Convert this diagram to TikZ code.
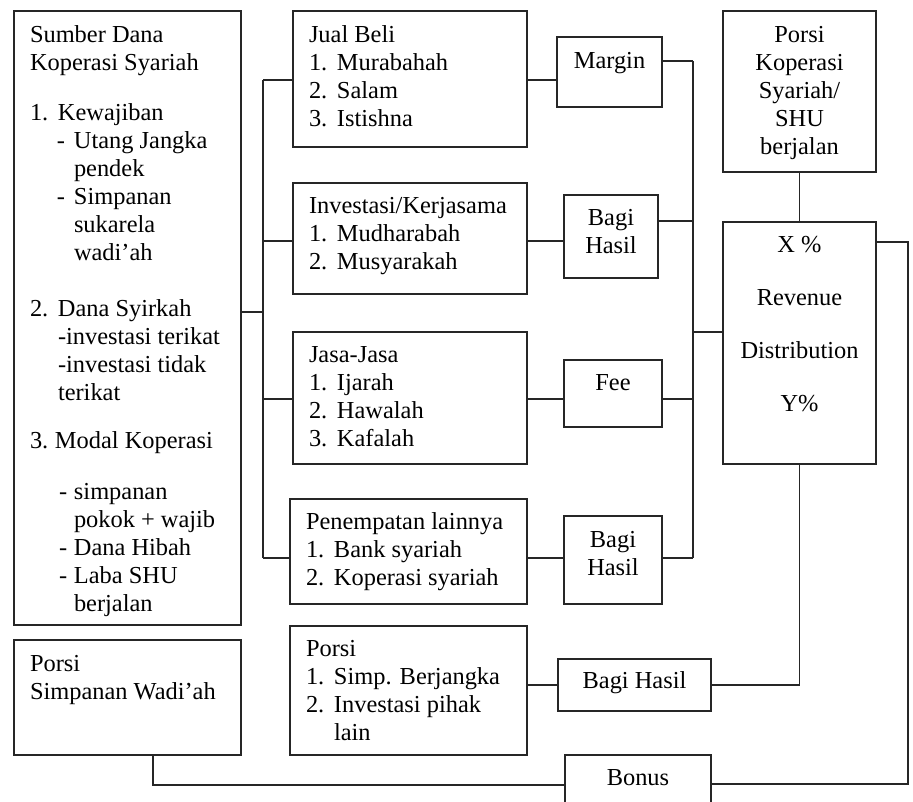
\documentclass[tikz,border=0pt]{standalone}
\usepackage{fontspec}
\setmainfont{Liberation Serif}
\newcommand\nm[1]{\makebox[28pt][l]{#1}}
\newcommand\BL[4]{\parbox[t][#2][t]{#1}{\raggedright\leftskip=16pt\relax\rule{0pt}{#3}#4\par}}
\newcommand\BC[4]{\parbox[t][#2][t]{#1}{\centering\rule{0pt}{#3}#4\par}}
\begin{document}
\begin{tikzpicture}[x=1pt,y=-1pt,
  box/.style={draw=black!85, line width=1.3pt, inner sep=0pt, outer sep=0pt, anchor=north west, font=\fontsize{24.4}{28}\selectfont},
  conn/.style={draw=black!85, line width=1.1pt}]
\clip (0,0) rectangle (913,801);
\fill[white] (0,0) rectangle (913,801);

% left column
\node[box] (sumber) at (14,11) {\BL{227pt}{614pt}{31pt}{Sumber Dana\\
Koperasi Syariah\\[22pt]
\nm{1.}Kewajiban\\
\hspace*{27pt}\makebox[17pt][l]{-}Utang Jangka\\
\hspace*{44pt}pendek\\
\hspace*{27pt}\makebox[17pt][l]{-}Simpanan\\
\hspace*{44pt}sukarela\\
\hspace*{44pt}wadi’ah\\[28pt]
\nm{2.}Dana Syirkah\\
\hspace*{28pt}-investasi terikat\\
\hspace*{28pt}-investasi tidak\\
\hspace*{28pt}terikat\\[20pt]
\makebox[25pt][l]{3.}Modal Koperasi\\[23pt]
\hspace*{29pt}\makebox[15pt][l]{-}simpanan\\
\hspace*{44pt}pokok + wajib\\
\hspace*{29pt}\makebox[15pt][l]{-}Dana Hibah\\
\hspace*{29pt}\makebox[15pt][l]{-}Laba SHU\\
\hspace*{44pt}berjalan}};
\node[box] (ps) at (14,640) {\BL{227pt}{115pt}{31pt}{Porsi\\
Simpanan Wadi’ah}};

% middle column
\node[box] (jb) at (293,11) {\BL{234pt}{136pt}{31pt}{Jual Beli\\
\nm{1.}Murabahah\\
\nm{2.}Salam\\
\nm{3.}Istishna}};
\node[box] (inv) at (293,183) {\BL{234pt}{111pt}{30pt}{Investasi/Kerjasama\\
\nm{1.}Mudharabah\\
\nm{2.}Musyarakah}};
\node[box] (jasa) at (293,332) {\BL{234pt}{132pt}{30pt}{Jasa-Jasa\\
\nm{1.}Ijarah\\
\nm{2.}Hawalah\\
\nm{3.}Kafalah}};
\node[box] (pen) at (290,499) {\BL{237pt}{105pt}{30pt}{Penempatan lainnya\\
\nm{1.}Bank syariah\\
\nm{2.}Koperasi syariah}};
\node[box] (p2) at (290,626) {\BL{237pt}{129pt}{30pt}{Porsi\\
\nm{1.}Simp. Berjangka\\
\nm{2.}Investasi pihak\\
\hspace*{28pt}lain}};

% small boxes
\node[box] (mg) at (557,37) {\BC{105pt}{70pt}{31pt}{Margin}};
\node[box] (bh1) at (564,195) {\BC{94pt}{83pt}{30pt}{Bagi\\Hasil}};
\node[box] (fee) at (564,360) {\BC{98pt}{67pt}{30pt}{Fee}};
\node[box] (bh2) at (564,516) {\BC{98pt}{88pt}{31pt}{Bagi\\Hasil}};
\node[box] (bh3) at (558,659) {\BC{153pt}{52pt}{29pt}{Bagi Hasil}};
\node[box] (bon) at (565,755) {\BC{146pt}{58pt}{30pt}{Bonus}};

% right column
\node[box] (pk) at (723,11) {\BC{153pt}{161pt}{31pt}{Porsi\\Koperasi\\Syariah/\\SHU\\berjalan}};
\node[box] (rev) at (723,222) {\BC{153pt}{242pt}{30pt}{X \%\\[25pt]Revenue\\[25pt]Distribution\\[25pt]Y\%}};

% left bus
\coordinate (L0) at (263,312);
\coordinate (L1) at (263,80);
\coordinate (L2) at (263,241);
\coordinate (L3) at (263,399);
\coordinate (L4) at (263,558);
\draw[conn] (L0 -| sumber.east) -- (L0);
\draw[conn] (L1) -- (L4);
\draw[conn] (L1) -- (L1 -| jb.west);
\draw[conn] (L2) -- (L2 -| inv.west);
\draw[conn] (L3) -- (L3 -| jasa.west);
\draw[conn] (L4) -- (L4 -| pen.west);

% middle links
\draw[conn] (L1 -| jb.east) -- (L1 -| mg.west);
\draw[conn] (L2 -| inv.east) -- (L2 -| bh1.west);
\draw[conn] (L3 -| jasa.east) -- (L3 -| fee.west);
\draw[conn] (L4 -| pen.east) -- (L4 -| bh2.west);

% right bus
\coordinate (R1) at (693,61);
\coordinate (R2) at (693,221);
\coordinate (R0) at (693,332);
\coordinate (R3) at (693,399);
\coordinate (R4) at (693,558);
\draw[conn] (R1 -| mg.east) -- (R1);
\draw[conn] (R2 -| bh1.east) -- (R2);
\draw[conn] (R3 -| fee.east) -- (R3);
\draw[conn] (R4 -| bh2.east) -- (R4);
\draw[conn] (R1) -- (R4);
\draw[conn] (R0) -- (R0 -| rev.west);

% revenue links
\draw[conn] (pk.south) -- (rev.north);
\draw[conn] (rev.south) |- (bh3.east);
\draw[conn] (bh3.west -| p2.east) -- (bh3.west);
\coordinate (RR) at (908,242);
\draw[conn] (RR -| rev.east) -- (RR) |- (bon.east);
\coordinate (BL) at (153,785);
\draw[conn] (BL |- ps.south) -- (BL) -- (BL -| bon.west);
\end{tikzpicture}
\end{document}
